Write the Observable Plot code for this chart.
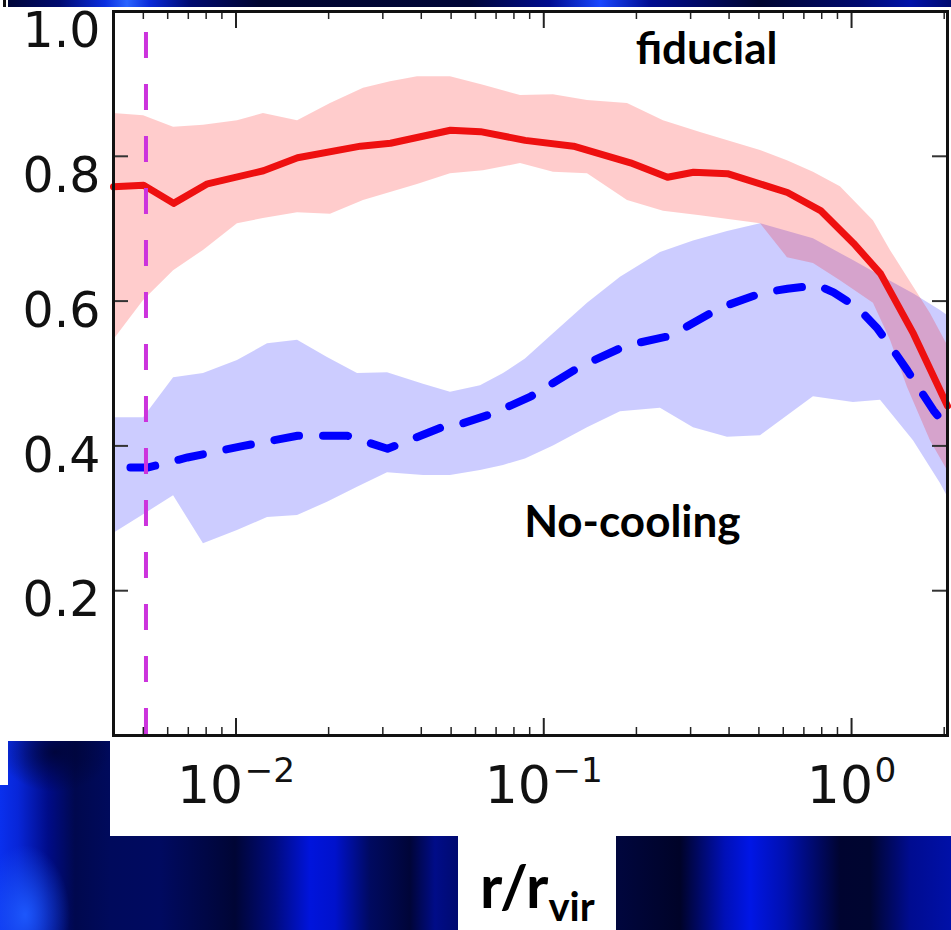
<!DOCTYPE html>
<html>
<head>
<meta charset="utf-8">
<script src="https://cdn.jsdelivr.net/npm/d3@7"></script>
<script src="https://cdn.jsdelivr.net/npm/@observablehq/plot@0.6"></script>
<style>
  html, body { margin: 0; padding: 0; background: #fff; }
  #page { position: relative; width: 951px; height: 930px; overflow: hidden; background: #fff; }
  .blue, .white { position: absolute; }
  .white { background: #fff; }
  #topband {
    left: 0; top: 0; width: 951px; height: 8px;
    background: linear-gradient(to right,
      #000530 0px, #000a70 60px, #0a2ee0 105px, #2a64ff 127px, #0a2ad8 150px, #000a70 190px,
      #000530 260px, #000638 470px, #000c90 550px, #1a48ff 600px, #000c90 650px,
      #000530 760px, #000a70 860px, #0012a8 910px, #000a70 951px);
  }
  #bottomband {
    left: 0; top: 741px; width: 951px; height: 189px;
    background:
      radial-gradient(ellipse 45px 70px at 25px 915px, rgba(30,90,255,0.95), rgba(30,90,255,0) 100%) 0 -741px / 951px 930px no-repeat,
      radial-gradient(ellipse 55px 40px at 55px 752px, rgba(0,4,50,0.85), rgba(0,4,50,0) 100%) 0 -741px / 951px 930px no-repeat,
      linear-gradient(to right,
        #0a30ee 0px, #0826d8 18px, #000c88 48px, #00084e 75px, #000a5c 110px, #000a60 160px,
        #000535 235px, #000b80 275px, #0014dc 310px, #0012cc 335px, #000a60 370px,
        #000538 410px, #000c88 435px, #000a70 458px,
        #00063e 616px, #000328 680px, #0010b8 725px, #0016e6 750px, #0010b0 785px,
        #000430 840px, #000530 870px, #000c90 910px, #0010a8 951px);
  }
  #chart { position: absolute; left: 0; top: 0; }
  #xlabel {
    position: absolute; left: 480px; top: 855px;
    font: 700 60px Lato, "Open Sans", sans-serif; line-height: 60px; color: #000;
    white-space: nowrap;
  }
  #xlabel sub { font-size: 40px; vertical-align: -13px; line-height: 0; }
</style>
</head>
<body>
<div id="page">
  <div class="blue" id="topband"></div>
  <div class="blue" id="bottomband"></div>
  <div class="white" style="left:0;top:7px;width:951px;height:734px"></div>
  <div class="white" style="left:110px;top:741px;width:841px;height:95px"></div>
  <div class="white" style="left:0;top:741px;width:8px;height:44px"></div>
  <div class="white" style="left:458px;top:836px;width:158px;height:94px"></div>
  <div class="white" style="left:0;top:0;width:8px;height:7px"></div>
  <div style="position:absolute;left:3px;top:0;width:3px;height:7px;background:#111"></div>
  <div id="chart"></div>
  <div id="xlabel">r/r<sub>vir</sub></div>
</div>
<script>
// Radial profiles of the fiducial and no-cooling runs (median and scatter band)

// fiducial run: median profile
const fidX   = [0.004, 0.00501, 0.00627, 0.00808, 0.01228, 0.01585, 0.02539, 0.03177, 0.04976, 0.06228, 0.0870, 0.1249, 0.1913, 0.2524, 0.3065, 0.3952, 0.619, 0.793, 1.014, 1.242, 1.589, 2.05];
const fidMed = [0.758, 0.760, 0.735, 0.762, 0.780, 0.798, 0.814, 0.818, 0.836, 0.834, 0.822, 0.814, 0.791, 0.771, 0.778, 0.776, 0.750, 0.725, 0.680, 0.638, 0.555, 0.455];

// fiducial run: scatter band
const fidBandX  = [0.004, 0.00501, 0.00627, 0.00784, 0.01011, 0.01228, 0.01585, 0.02028, 0.02596, 0.03177, 0.03888, 0.04976, 0.0637, 0.08403, 0.1075, 0.1387, 0.1871, 0.2449, 0.323, 0.506, 0.619, 0.752, 0.920, 1.178, 1.338, 1.519, 1.804, 2.05];
const fidHigh   = [0.859, 0.856, 0.840, 0.843, 0.849, 0.859, 0.849, 0.873, 0.894, 0.903, 0.910, 0.910, 0.898, 0.884, 0.885, 0.877, 0.873, 0.849, 0.833, 0.808, 0.794, 0.778, 0.758, 0.711, 0.670, 0.633, 0.583, 0.539];
const fidLow    = [0.546, 0.601, 0.642, 0.670, 0.707, 0.714, 0.722, 0.720, 0.739, 0.750, 0.761, 0.776, 0.780, 0.790, 0.778, 0.776, 0.739, 0.724, 0.718, 0.707, 0.660, 0.652, 0.628, 0.597, 0.546, 0.481, 0.407, 0.366];

// no-cooling run: median profile
const ncX   = [0.00454, 0.00516, 0.00696, 0.01058, 0.01585, 0.02303, 0.03107, 0.04616, 0.0509, 0.06866, 0.09053, 0.1249, 0.1450, 0.1775, 0.2062, 0.2581, 0.3751, 0.5177, 0.619, 0.775, 0.874, 1.046, 1.214, 1.368, 1.519, 1.846, 2.05];
const ncMed = [0.370, 0.370, 0.384, 0.400, 0.414, 0.414, 0.396, 0.425, 0.427, 0.445, 0.468, 0.504, 0.518, 0.535, 0.543, 0.552, 0.591, 0.612, 0.617, 0.622, 0.612, 0.591, 0.562, 0.532, 0.504, 0.449, 0.425];

// no-cooling run: scatter band
const ncBandX = [0.004, 0.00501, 0.00627, 0.00784, 0.01011, 0.01266, 0.01585, 0.01983, 0.02482, 0.03107, 0.04066, 0.04976, 0.06228, 0.0740, 0.0872, 0.1075, 0.1387, 0.1775, 0.2394, 0.3065, 0.3952, 0.506, 0.752, 1.014, 1.242, 1.589, 1.945, 2.05];
const ncHigh  = [0.439, 0.439, 0.494, 0.500, 0.518, 0.541, 0.546, 0.522, 0.500, 0.501, 0.485, 0.474, 0.483, 0.500, 0.520, 0.555, 0.597, 0.633, 0.667, 0.683, 0.696, 0.707, 0.686, 0.656, 0.635, 0.610, 0.587, 0.580];
const ncLow   = [0.279, 0.305, 0.331, 0.265, 0.283, 0.301, 0.304, 0.322, 0.343, 0.363, 0.359, 0.359, 0.366, 0.373, 0.382, 0.400, 0.425, 0.447, 0.452, 0.425, 0.412, 0.414, 0.468, 0.460, 0.463, 0.407, 0.348, 0.330];

// vertical reference radius
const refRadius = [0.0051];

// axes
const xMajorTicks = [0.01, 0.1, 1];
const xExponents  = ["\u22122", "\u22121", "0"];
const xMinorTicks = [0.005, 0.006, 0.007, 0.008, 0.009,
                     0.02, 0.03, 0.04, 0.05, 0.06, 0.07, 0.08, 0.09,
                     0.2, 0.3, 0.4, 0.5, 0.6, 0.7, 0.8, 0.9, 2];
const yTicks      = [0.2, 0.4, 0.6, 0.8, 1.0];
const yLabelsHigh = [0.8, 1.0];
const yLabelsLow  = [0.2, 0.4, 0.6];

// run labels
const runLabels = [
  {text: "fiducial",   x: 0.338, y: 0.927},
  {text: "No-cooling", x: 0.194, y: 0.2735}
];

const rows = (xs, lo, hi) => xs.map((x, i) => ({x, a: lo[i], b: hi ? hi[i] : undefined}));
const fidLine = rows(fidX, fidMed);
const fidBand = rows(fidBandX, fidLow, fidHigh);
const ncLine  = rows(ncX, ncMed);
const ncBand  = rows(ncBandX, ncLow, ncHigh);

const W = 951, H = 930;
const mL = 113, mR = 4, mT = 11, mB = 195;
const plotW = W - mL - mR, plotH = H - mT - mB;
const expOf = new Map(xMajorTicks.map((v, i) => [v, xExponents[i]]));
const yAxisStyle = {tickSize: 0, tickPadding: 13, tickFormat: d3.format(".1f"), fontSize: 49, fill: "#111", label: null};

const chart = Plot.plot({
  width: W, height: H,
  marginLeft: mL, marginRight: mR, marginTop: mT, marginBottom: mB,
  style: {background: "transparent", fontFamily: "DejaVu Sans", overflow: "visible"},
  x: {type: "log", domain: [0.004, 2.05]},
  y: {domain: [0, 1]},
  marks: [
    Plot.areaY(ncBand,  {x: "x", y1: "a", y2: "b", fill: "#0000ff", fillOpacity: 0.2}),
    Plot.areaY(fidBand, {x: "x", y1: "a", y2: "b", fill: "#ff0000", fillOpacity: 0.2}),
    Plot.line(fidLine, {x: "x", y: "a", stroke: "#ee1010", strokeWidth: 7, strokeLinejoin: "round"}),
    Plot.line(ncLine,  {x: "x", y: "a", stroke: "#0000ff", strokeWidth: 8, strokeDasharray: "25,24", strokeLinejoin: "round"}),
    Plot.ruleX(refRadius, {x: d => d, stroke: "#cc33dd", strokeWidth: 4, strokeDasharray: "26,26", strokeDashoffset: 31}),
    // inward tick marks on all four sides
    Plot.tickX(xMajorTicks, {x: d => d, insetTop: plotH - 17, stroke: "#222", strokeWidth: 2}),
    Plot.tickX(xMinorTicks, {x: d => d, insetTop: plotH - 8, stroke: "#222", strokeWidth: 1.5}),
    Plot.tickX(xMajorTicks, {x: d => d, insetBottom: plotH - 17, stroke: "#222", strokeWidth: 2}),
    Plot.tickX(xMinorTicks, {x: d => d, insetBottom: plotH - 8, stroke: "#222", strokeWidth: 1.5}),
    Plot.tickY(yTicks, {y: d => d, insetRight: plotW - 15, stroke: "#333", strokeWidth: 2}),
    Plot.tickY(yTicks, {y: d => d, insetLeft: plotW - 15, stroke: "#333", strokeWidth: 2}),
    Plot.axisY(yLabelsHigh, {...yAxisStyle, dy: 20}),
    Plot.axisY(yLabelsLow,  {...yAxisStyle, dy: 10}),
    Plot.axisX(xMajorTicks, {tickSize: 0, tickPadding: 31, tickFormat: d => "10^" + expOf.get(d), fontSize: 52, fill: "#111", label: null}),
    Plot.text(runLabels, {x: "x", y: "y", text: "text", fontSize: 44, fontWeight: 700, fontFamily: "Lato", lineAnchor: "bottom", textAnchor: "middle", fill: "#000"}),
    Plot.frame({stroke: "#111", strokeWidth: 3})
  ]
});

// typeset the decade labels as a base with a raised exponent
d3.select(chart).selectAll('g[aria-label="x-axis tick label"] text').each(function() {
  const [base, exp] = this.textContent.split("^");
  const t = d3.select(this).text(null);
  t.append("tspan").text(base);
  t.append("tspan").attr("font-size", "0.66em").attr("dy", "-0.62em").attr("dx", "0.04em").text(exp);
});

document.getElementById("chart").appendChild(chart);
</script>
</body>
</html>
